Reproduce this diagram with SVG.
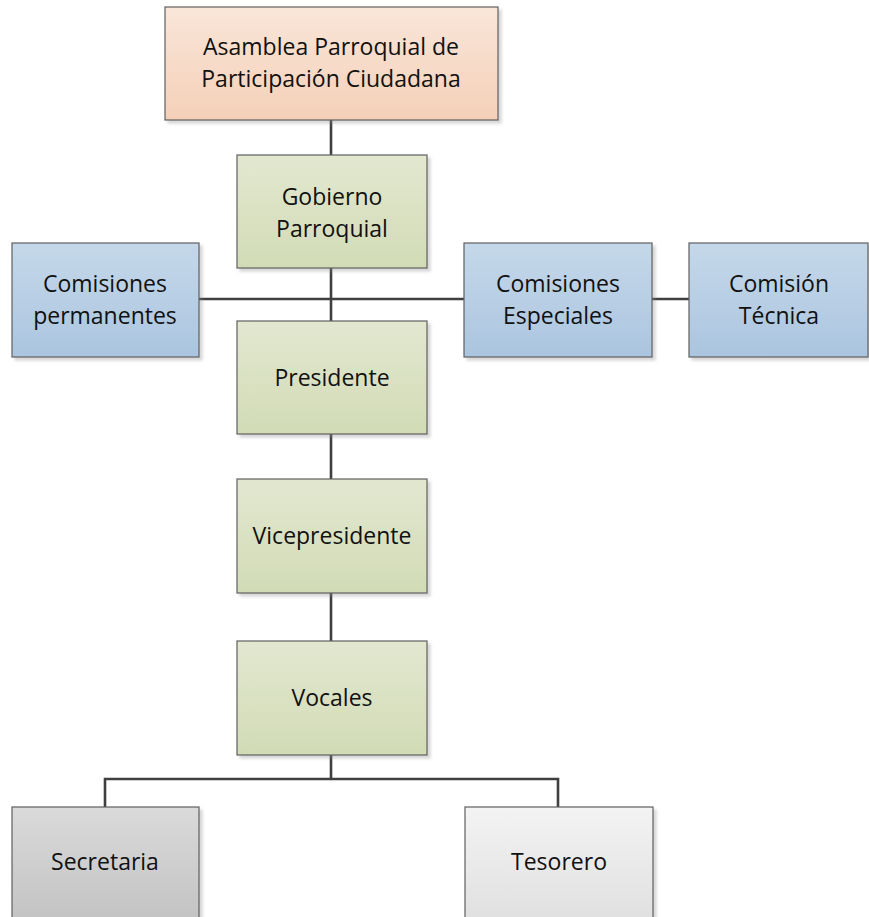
<svg xmlns="http://www.w3.org/2000/svg" width="869" height="917" viewBox="0 0 869 917">
<style>
.box{stroke:#5f5f5f;stroke-width:1.2;filter:url(#sh)}
.t{font-family:"Open Sans","Liberation Sans",sans-serif;font-size:23px;fill:#111;text-anchor:middle}
.c{stroke:#3f3f3f;stroke-width:2.6;fill:none}
</style>
<defs>
<filter id="sh" x="-10%" y="-10%" width="130%" height="130%">
<feDropShadow dx="3" dy="3" stdDeviation="1.5" flood-color="#888" flood-opacity="0.35"/>
</filter>
<linearGradient id="gO" x1="0" y1="0" x2="0" y2="1"><stop offset="0" stop-color="#fae6d9"/><stop offset="1" stop-color="#f4d0b8"/></linearGradient>
<linearGradient id="gG" x1="0" y1="0" x2="0" y2="1"><stop offset="0" stop-color="#e2e8d0"/><stop offset="1" stop-color="#d2dbb6"/></linearGradient>
<linearGradient id="gB" x1="0" y1="0" x2="0" y2="1"><stop offset="0" stop-color="#c5d8ea"/><stop offset="1" stop-color="#abc5df"/></linearGradient>
<linearGradient id="gS" x1="0" y1="0" x2="0" y2="1"><stop offset="0" stop-color="#dadada"/><stop offset="1" stop-color="#c3c3c3"/></linearGradient>
<linearGradient id="gT" x1="0" y1="0" x2="0" y2="1"><stop offset="0" stop-color="#f3f3f3"/><stop offset="1" stop-color="#e0e0e0"/></linearGradient>
</defs>
<rect width="869" height="917" fill="#fff"/>
<g id="connectors">
<line class="c" x1="331" y1="120" x2="331" y2="155"/>
<line class="c" x1="331" y1="268" x2="331" y2="321"/>
<line class="c" x1="199" y1="299" x2="464" y2="299"/>
<line class="c" x1="652" y1="299" x2="689" y2="299"/>
<line class="c" x1="331" y1="434" x2="331" y2="479"/>
<line class="c" x1="331" y1="593" x2="331" y2="641"/>
<polyline class="c" points="331,755 331,779"/>
<polyline class="c" points="105,807 105,779 558,779 558,807"/>
</g>
<g id="asamblea">
<rect class="box" x="165" y="7" width="333" height="113" fill="url(#gO)"/>
<text class="t" x="331" y="55">Asamblea Parroquial de</text>
<text class="t" x="331" y="87">Participación Ciudadana</text>
</g>
<g id="gobierno">
<rect class="box" x="237" y="155" width="190" height="113" fill="url(#gG)"/>
<text class="t" x="332" y="205">Gobierno</text>
<text class="t" x="332" y="237">Parroquial</text>
</g>
<g id="com-permanentes">
<rect class="box" x="12" y="243" width="187" height="114" fill="url(#gB)"/>
<text class="t" x="105" y="292">Comisiones</text>
<text class="t" x="105" y="324">permanentes</text>
</g>
<g id="com-especiales">
<rect class="box" x="464" y="243" width="188" height="114" fill="url(#gB)"/>
<text class="t" x="558" y="292">Comisiones</text>
<text class="t" x="558" y="324">Especiales</text>
</g>
<g id="com-tecnica">
<rect class="box" x="689" y="243" width="179" height="114" fill="url(#gB)"/>
<text class="t" x="779" y="292">Comisión</text>
<text class="t" x="779" y="324">Técnica</text>
</g>
<g id="presidente">
<rect class="box" x="237" y="321" width="190" height="113" fill="url(#gG)"/>
<text class="t" x="332" y="386">Presidente</text>
</g>
<g id="vicepresidente">
<rect class="box" x="237" y="479" width="190" height="114" fill="url(#gG)"/>
<text class="t" x="332" y="544">Vicepresidente</text>
</g>
<g id="vocales">
<rect class="box" x="237" y="641" width="190" height="114" fill="url(#gG)"/>
<text class="t" x="332" y="706">Vocales</text>
</g>
<g id="secretaria">
<rect class="box" x="12" y="807" width="187" height="114" fill="url(#gS)"/>
<text class="t" x="105" y="870">Secretaria</text>
</g>
<g id="tesorero">
<rect class="box" x="465" y="807" width="188" height="114" fill="url(#gT)"/>
<text class="t" x="559" y="870">Tesorero</text>
</g>
</svg>
